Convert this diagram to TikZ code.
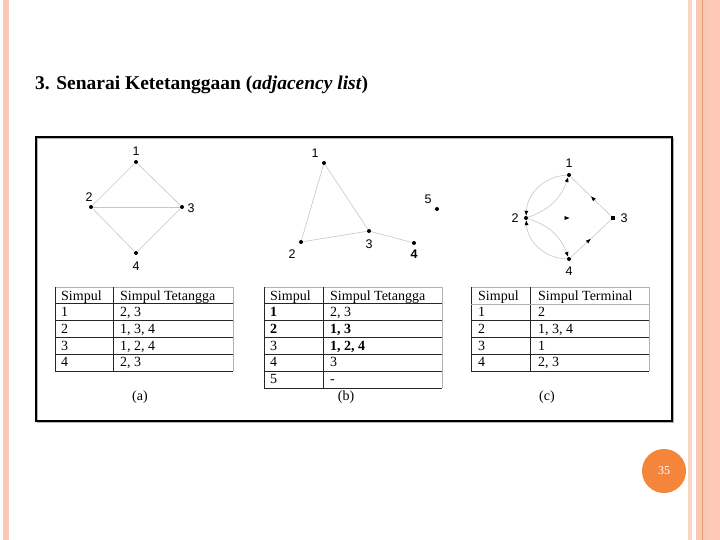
\documentclass[tikz,border=0pt]{standalone}
\usepackage{fontspec}
\setmainfont{Liberation Serif}
\newfontfamily\arialf{Liberation Sans}
\usetikzlibrary{arrows.meta,decorations.markings}
\definecolor{stripA}{HTML}{F9C9B6}
\definecolor{stripB}{HTML}{FBD6C6}
\definecolor{stripC}{HTML}{FFC8B8}
\definecolor{stripD}{HTML}{E59A72}
\definecolor{pagenum}{HTML}{F5853A}
\begin{document}
\begin{tikzpicture}[x=1pt,y=-1pt,
  dot/.style={circle,fill=black,inner sep=0pt,minimum size=4pt},
  glabel/.style={font=\arialf\fontsize{12.5}{14}\selectfont,inner sep=0pt},
  gedge/.style={draw=black!22,line width=0.6pt},
  tiparrow/.style={-{Latex[length=5pt,width=4pt,color=black]}},
  midarr/.style={postaction={decorate},decoration={markings,mark=at position 0.5 with {\arrow{Latex[length=5pt,width=4pt,color=black]}}}},
  tcell/.style={anchor=base west,inner sep=0pt,font=\fontsize{14}{16}\selectfont},
  tline/.style={draw=black!85,line width=0.8pt},
  tlight/.style={draw=black!30,line width=0.6pt},
  caption/.style={inner sep=0pt,font=\fontsize{14}{16}\selectfont}]
\useasboundingbox (0,0) rectangle (720,540);
\fill[white] (0,0) rectangle (720,540);
% side strips
\fill[stripA] (3,0) rectangle (9,540);
\fill[stripB] (688,0) rectangle (692,540);
\fill[stripA] (696,0) rectangle (709,540);
\fill[stripC] (709,0) rectangle (720,540);
\draw[stripD,line width=1pt] (702.5,0) -- (702.5,540);

% title
\node[anchor=base west,inner sep=0pt,font=\bfseries\fontsize{19.5}{24}\selectfont] (title) at (35,90)
  {3. Senarai Ketetanggaan (\textit{adjacency list})};

% frame
\draw[black!30,line width=1.2pt] (37.5,138.5) rectangle (673.5,422.5);
\draw[black,line width=1.1pt] (36,137) rectangle (672,421) node[pos=0,inner sep=0pt] (frame) {};

% ---------- graph (a)
\node[dot] (a1) at (136,162) {};
\node[dot] (a2) at (91,207) {};
\node[dot] (a3) at (182,207) {};
\node[dot] (a4) at (136,253) {};
\node[glabel] (la1) at (136,151) {1};
\node[glabel] (la2) at (89,197) {2};
\node[glabel] (la3) at (191,208) {3};
\node[glabel] (la4) at (136,266) {4};
\draw[gedge] (a1) -- (a2);
\draw[gedge] (a1) -- (a3);
\draw[gedge] (a2) -- (a3);
\draw[gedge] (a2) -- (a4);
\draw[gedge] (a3) -- (a4);

% ---------- graph (b)
\node[dot] (b1) at (324,163) {};
\node[dot] (b2) at (301,242) {};
\node[dot] (b3) at (369,231) {};
\node[dot] (b4) at (414,243) {};
\node[dot] (b5) at (437,209) {};
\node[glabel] (lb1) at (315,153) {1};
\node[glabel] (lb2) at (292,254) {2};
\node[glabel] (lb3) at (369,244) {3};
\node[glabel,font=\arialf\bfseries\fontsize{12.5}{14}\selectfont] (lb4) at (414,254) {4};
\node[glabel] (lb5) at (428,199) {5};
\draw[gedge] (b1) -- (b2);
\draw[gedge] (b1) -- (b3);
\draw[gedge] (b2) -- (b3);
\draw[gedge] (b3) -- (b4);

% ---------- graph (c)
\node[dot] (c1) at (569,175) {};
\node[dot] (c2) at (526,218) {};
\node[dot,rectangle,minimum size=3.5pt] (c3) at (613,218) {};
\node[dot] (c4) at (569,259) {};
\node[glabel] (lc1) at (569,163) {1};
\node[glabel] (lc2) at (515,218) {2};
\node[glabel] (lc3) at (624,218) {3};
\node[glabel] (lc4) at (569,271) {4};
\draw[gedge,tiparrow] (c1) to[bend right=42] (c2);
\draw[gedge,tiparrow] (c2) to[bend right=26] (c1);
\draw[gedge,tiparrow] (c4) to[bend left=42] (c2);
\draw[gedge,tiparrow] (c2) to[bend left=26] (c4);
\draw[gedge,midarr] (c3) -- (c1);
\draw[gedge,midarr] (c4) -- (c3);
\path[midarr] (c2) -- (c3);

% ---------- table (a)
\draw[tlight] (55,287) -- (233,287);
\draw[tlight] (233,287) -- (233,371);
\draw[tline] (55,287) -- (55,371);
\draw[tline] (113,287) -- (113,371);
\foreach \yy in {303.8,320.6,337.4,354.2,371} \draw[tline] (55,\yy) -- (233,\yy);
\node[tcell] (ta0a) at (61,300) {Simpul};
\node[tcell] (ta0b) at (120,300) {Simpul Tetangga};
\node[tcell] (ta1a) at (61,316.5) {1};
\node[tcell] (ta1b) at (120,316.5) {2, 3};
\node[tcell] (ta2a) at (61,333.3) {2};
\node[tcell] (ta2b) at (120,333.3) {1, 3, 4};
\node[tcell] (ta3a) at (61,350.1) {3};
\node[tcell] (ta3b) at (120,350.1) {1, 2, 4};
\node[tcell] (ta4a) at (61,366.9) {4};
\node[tcell] (ta4b) at (120,366.9) {2, 3};
\node[caption] (capa) at (140,397) {(a)};

% ---------- table (b)
\draw[tlight] (264,287) -- (442,287);
\draw[tlight] (442,287) -- (442,388);
\draw[tline] (264,287) -- (264,388);
\draw[tline] (323,287) -- (323,388);
\foreach \yy in {303.8,320.6,337.4,354.2,371,388} \draw[tline] (264,\yy) -- (442,\yy);
\node[tcell] (tb0a) at (270,300) {Simpul};
\node[tcell] (tb0b) at (330,300) {Simpul Tetangga};
\node[tcell,font=\bfseries\fontsize{14}{16}\selectfont] (tb1a) at (270,316.5) {1};
\node[tcell] (tb1b) at (330,316.5) {2, 3};
\node[tcell,font=\bfseries\fontsize{14}{16}\selectfont] (tb2a) at (270,333.3) {2};
\node[tcell,font=\bfseries\fontsize{14}{16}\selectfont] (tb2b) at (330,333.3) {1, 3};
\node[tcell] (tb3a) at (270,350.1) {3};
\node[tcell,font=\bfseries\fontsize{14}{16}\selectfont] (tb3b) at (330,350.1) {1, 2, 4};
\node[tcell] (tb4a) at (270,366.9) {4};
\node[tcell] (tb4b) at (330,366.9) {3};
\node[tcell] (tb5a) at (270,383.7) {5};
\node[tcell] (tb5b) at (330,383.7) {-};
\node[caption] (capb) at (346,397) {(b)};

% ---------- table (c)
\draw[tlight] (471,287) -- (649,287);
\draw[tlight] (649,287) -- (649,371);
\draw[tline] (471,287) -- (471,371);
\draw[tline] (530,287) -- (530,371);
\draw[tlight] (471,303.8) -- (649,303.8);
\foreach \yy in {320.6,337.4,354.2,371} \draw[tline] (471,\yy) -- (649,\yy);
\node[tcell] (tc0a) at (478,300) {Simpul};
\node[tcell] (tc0b) at (538,300) {Simpul Terminal};
\node[tcell] (tc1a) at (478,316.5) {1};
\node[tcell] (tc1b) at (538,316.5) {2};
\node[tcell] (tc2a) at (478,333.3) {2};
\node[tcell] (tc2b) at (538,333.3) {1, 3, 4};
\node[tcell] (tc3a) at (478,350.1) {3};
\node[tcell] (tc3b) at (538,350.1) {1};
\node[tcell] (tc4a) at (478,366.9) {4};
\node[tcell] (tc4b) at (538,366.9) {2, 3};
\node[caption] (capc) at (547,397) {(c)};

% page number
\node[circle,fill=pagenum,minimum size=44pt,inner sep=0pt,text=white,font=\fontsize{12}{14}\selectfont] (pnum) at (664,471) {35};
\end{tikzpicture}
\end{document}
